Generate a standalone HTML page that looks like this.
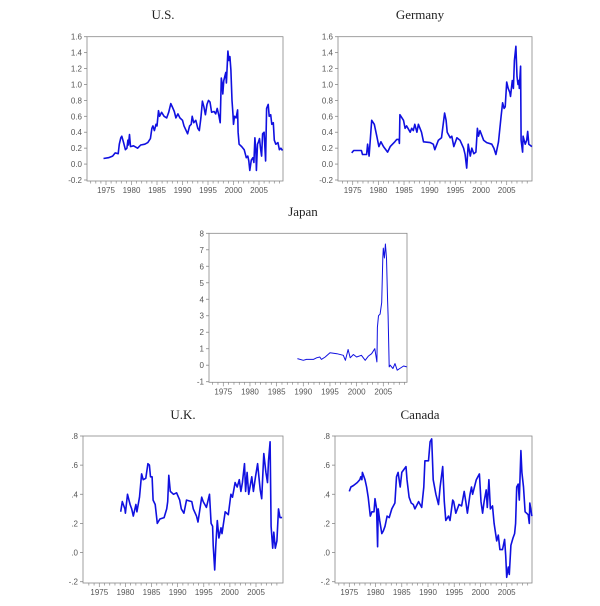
<!DOCTYPE html>
<html><head><meta charset="utf-8">
<style>
html,body{margin:0;padding:0;background:#fff;}
svg{display:block;}
.tl{font-family:"Liberation Sans",sans-serif;font-size:8px;fill:#555;}
.ttl{font-family:"Liberation Serif",serif;font-size:13px;fill:#222;}
</style></head>
<body>
<svg id="fig" width="600" height="606" viewBox="0 0 600 606" xmlns="http://www.w3.org/2000/svg"></svg>
<script>
const usYears=[1974.5,1975.5,1976.3,1976.8,1977.4,1977.6,1977.9,1978.1,1978.5,1978.8,1979.1,1979.3,1979.4,1979.6,1979.8,1980.4,1981.2,1981.8,1982.6,1983.2,1983.7,1984.0,1984.2,1984.5,1984.8,1985.0,1985.3,1985.5,1985.9,1986.4,1986.9,1987.3,1987.7,1988.0,1988.4,1988.7,1989.1,1989.5,1990.0,1990.3,1991.0,1991.4,1991.7,1991.9,1992.2,1992.6,1993.0,1993.3,1993.6,1993.9,1994.2,1994.5,1994.8,1995.1,1995.4,1995.7,1996.2,1996.5,1996.8,1997.1,1997.4,1997.6,1997.8,1997.9,1998.1,1998.3,1998.5,1998.6,1998.9,1999.1,1999.3,1999.5,1999.7,1999.9,2000.0,2000.2,2000.5,2000.8,2000.9,2001.1,2001.6,2002.1,2002.5,2002.8,2003.0,2003.2,2003.5,2003.8,2004.0,2004.2,2004.4,2004.5,2004.7,2004.9,2005.1,2005.3,2005.5,2005.7,2006.0,2006.3,2006.5,2006.8,2007.0,2007.3,2007.5,2007.8,2008.0,2008.3,2008.7,2009.0,2009.3,2009.6];
const usValues=[.07,.08,.10,.14,.13,.25,.33,.35,.26,.18,.20,.30,.24,.37,.22,.23,.20,.24,.25,.27,.32,.45,.48,.42,.50,.48,.67,.60,.65,.60,.58,.65,.76,.72,.66,.58,.63,.58,.55,.48,.38,.48,.50,.60,.52,.55,.45,.42,.58,.79,.72,.62,.75,.80,.78,.65,.66,.63,.70,.62,.52,1.08,1.00,.88,1.05,1.10,1.15,1.02,1.42,1.30,1.35,1.18,.80,.62,.50,.60,.58,.68,.40,.25,.22,.18,.08,.10,.04,-.08,.05,.08,.02,.33,.15,-.08,.25,.28,.32,.20,.10,.38,.40,.04,.70,.75,.60,.62,.50,.52,.30,.25,.27,.18,.20,.17];

const deYears=[1974.8,1975.2,1976.0,1976.7,1976.9,1977.7,1977.9,1978.2,1978.7,1979.2,1979.7,1980.1,1980.5,1981.0,1981.8,1982.3,1983.2,1983.6,1984.0,1984.1,1984.2,1984.9,1985.2,1985.5,1986.2,1986.5,1986.8,1987.1,1987.5,1987.8,1988.4,1988.8,1990.1,1990.7,1991.0,1991.7,1992.3,1992.9,1993.2,1993.4,1994.0,1994.3,1994.7,1995.3,1995.9,1996.6,1996.9,1997.2,1997.5,1997.9,1998.2,1998.6,1999.0,1999.3,1999.5,1999.8,2000.5,2001.1,2002.1,2002.5,2002.9,2003.4,2003.9,2004.2,2004.5,2004.7,2005.0,2005.3,2005.6,2005.75,2006.1,2006.3,2006.5,2006.8,2007.0,2007.2,2007.4,2007.45,2007.7,2007.8,2008.1,2008.2,2008.6,2008.9,2009.1,2009.3,2009.9];
const deValues=[.14,.17,.17,.17,.12,.12,.25,.10,.55,.50,.35,.22,.28,.22,.15,.22,.28,.31,.31,.26,.62,.55,.45,.48,.40,.45,.42,.50,.40,.50,.40,.28,.27,.25,.18,.30,.33,.64,.55,.40,.33,.35,.22,.33,.30,.20,.12,-.05,.25,.10,.20,.13,.15,.45,.35,.42,.30,.27,.25,.20,.12,.28,.60,.77,.70,.72,1.03,.95,.90,.85,1.05,.95,1.30,1.48,1.10,1.00,1.05,.95,1.23,.30,.15,.35,.25,.30,.41,.25,.22];

const jpYears=[1988.9,1990.0,1990.6,1991.9,1992.5,1993.1,1993.4,1994.1,1995.0,1996.3,1997.5,1997.9,1998.4,1998.8,1999.4,2000.0,2000.9,2001.6,2002.2,2002.8,2003.4,2003.8,2003.9,2004.1,2004.4,2004.7,2004.9,2005.0,2005.2,2005.4,2005.6,2005.8,2005.9,2006.1,2006.3,2006.8,2007.2,2007.6,2008.1,2008.8,2009.4];
const jpValues=[.4,.3,.35,.35,.45,.5,.35,.5,.75,.7,.6,.3,.95,.45,.65,.5,.6,.3,.55,.7,1.0,.2,2.3,3.0,3.1,3.8,6.5,7.1,6.5,7.35,6.5,3.9,3.0,-.1,0.0,-.2,.1,-.3,-.2,-.05,-.1];

const ukYears=[1979.1,1979.4,1979.7,1979.9,1980.0,1980.4,1980.9,1981.2,1981.5,1982.0,1982.2,1982.7,1983.1,1983.4,1983.9,1984.3,1984.6,1984.8,1985.1,1985.3,1985.7,1986.1,1986.6,1987.4,1987.9,1988.1,1988.3,1988.6,1989.2,1989.8,1990.4,1990.7,1991.2,1991.7,1992.7,1993.0,1993.6,1993.9,1994.6,1994.9,1995.5,1996.1,1996.4,1996.7,1996.8,1997.1,1997.3,1997.6,1997.9,1998.3,1998.5,1999.1,1999.7,2000.2,2000.5,2001.0,2001.4,2001.8,2002.1,2002.4,2002.8,2003.0,2003.3,2003.6,2004.2,2004.5,2004.9,2005.3,2005.8,2006.1,2006.5,2006.9,2007.2,2007.4,2007.7,2007.9,2008.2,2008.4,2008.7,2009.0,2009.3,2009.6,2010.0];
const ukValues=[.28,.35,.32,.30,.27,.40,.33,.30,.25,.33,.28,.38,.54,.50,.51,.61,.60,.52,.52,.36,.33,.20,.23,.24,.30,.35,.53,.42,.40,.41,.36,.30,.27,.36,.35,.30,.25,.21,.38,.35,.31,.40,.20,.18,.05,-.12,.05,.22,.10,.17,.13,.28,.26,.40,.38,.48,.45,.50,.42,.48,.61,.42,.55,.40,.52,.42,.52,.61,.43,.37,.68,.55,.48,.63,.76,.18,.03,.14,.03,.08,.30,.24,.24];

const caYears=[1975.0,1975.3,1975.8,1976.5,1977.0,1977.2,1977.4,1977.5,1978.0,1978.3,1978.6,1979.0,1979.3,1979.7,1979.9,1980.2,1980.4,1980.5,1980.8,1981.2,1981.5,1981.8,1982.2,1982.6,1983.1,1983.7,1984.0,1984.3,1984.7,1985.0,1985.4,1985.8,1986.0,1986.4,1986.8,1987.2,1987.5,1988.2,1988.8,1989.2,1989.4,1990.1,1990.4,1990.7,1991.0,1991.5,1992.0,1992.3,1992.8,1993.1,1993.4,1993.9,1994.2,1994.7,1994.9,1995.3,1995.9,1996.4,1996.9,1997.2,1997.5,1998.0,1998.3,1998.5,1999.2,1999.8,2000.1,2000.4,2000.7,2001.1,2001.3,2001.6,2001.9,2002.3,2002.6,2003.1,2003.4,2003.7,2004.2,2004.6,2004.8,2005.0,2005.3,2005.5,2005.8,2006.2,2006.5,2006.7,2006.9,2007.2,2007.4,2007.7,2007.9,2008.2,2008.5,2008.8,2009.1,2009.3,2009.4,2009.8];
const caValues=[.42,.45,.46,.48,.50,.52,.50,.55,.50,.45,.38,.25,.28,.28,.37,.30,.04,.30,.22,.13,.15,.18,.25,.24,.30,.34,.52,.55,.45,.55,.57,.59,.50,.38,.34,.33,.30,.35,.31,.45,.63,.63,.76,.78,.50,.40,.33,.45,.59,.35,.22,.25,.22,.36,.35,.27,.33,.32,.42,.35,.27,.40,.45,.40,.50,.54,.35,.27,.35,.43,.31,.50,.30,.32,.20,.08,.12,.02,.02,.09,-.02,-.17,-.10,-.15,.05,.10,.13,.20,.45,.47,.36,.70,.55,.45,.28,.27,.26,.20,.34,.25];

const usTicks=["1.6","1.4","1.2","1.0","0.8","0.6","0.4","0.2","0.0","-0.2"];
const usTickVals=[1.6,1.4,1.2,1.0,0.8,0.6,0.4,0.2,0.0,-0.2];
const jpTicks=["8","7","6","5","4","3","2","1","0","-1"];
const jpTickVals=[8,7,6,5,4,3,2,1,0,-1];
const ukTicks=[".8",".6",".4",".2",".0","-.2"];
const ukTickVals=[.8,.6,.4,.2,0,-.2];
const yearLabels=["1975","1980","1985","1990","1995","2000","2005"];
const yearVals=[1975,1980,1985,1990,1995,2000,2005];

const NS="http://www.w3.org/2000/svg";
const svg=document.getElementById('fig');
function el(tag,attrs,parent){const e=document.createElementNS(NS,tag);for(const k in attrs)e.setAttribute(k,attrs[k]);(parent||svg).appendChild(e);return e;}

function panel(p){
  const g=el('g',{});
  
  
  const sx=y=>p.x1975+(y-1975)*(p.x2005-p.x1975)/30;
  const sy=v=>p.yTop+(p.vTop-v)*(p.yBot-p.yTop)/(p.vTop-p.vBot);
  const t=el('text',{x:p.tx,y:p.ty,'text-anchor':'middle',class:'ttl'},g);
  t.textContent=p.title;
  
  
  const box=el('rect',{x:p.bx0,y:p.by0,width:p.bx1-p.bx0,height:p.by1-p.by0,fill:'none',stroke:'#888','stroke-width':0.8},g);
  
  
  // y ticks
  p.tickVals.forEach((v,i)=>{
    const yy=sy(v);
    el('line',{x1:p.bx0-3,x2:p.bx0,y1:yy,y2:yy,stroke:'#888','stroke-width':0.8},g);
    const tl=el('text',{x:p.bx0-5,y:yy+3,'text-anchor':'end',class:'tl'},g);
    tl.textContent=p.ticks[i];
    
    
  });
  // x ticks
  for(let yr=1972;yr<=2010;yr++){
    const xx=sx(yr);
    if(xx<p.bx0+1||xx>p.bx1-1)continue;
    const big=yr%5===0;
    el('line',{x1:xx,x2:xx,y1:p.by1,y2:p.by1+(big?4:2.5),stroke:'#888','stroke-width':0.7},g);
  }
  yearVals.forEach((yr,i)=>{
    const tl=el('text',{x:sx(yr),y:p.by1+12,'text-anchor':'middle',class:'tl'},g);
    tl.textContent=yearLabels[i];
    
    
  });
  const pts=p.years.map((y,i)=>sx(y).toFixed(1)+','+sy(p.values[i]).toFixed(1)).join(' ');
  const line=el('polyline',{points:pts,fill:'none',stroke:'#1010e0','stroke-width':p.sw,'stroke-linejoin':'round'},g);
  
  
}

panel({name:'us',title:'U.S.',tx:163,ty:19,x1975:106,x2005:259,yTop:36.7,yBot:180,vTop:1.6,vBot:-0.2,bx0:87,bx1:283,by0:36.7,by1:181,ticks:usTicks,tickVals:usTickVals,years:usYears,values:usValues,sw:1.6});
panel({name:'germany',title:'Germany',tx:420,ty:19,x1975:352.7,x2005:506.7,yTop:36.7,yBot:180,vTop:1.6,vBot:-0.2,bx0:338,bx1:532,by0:36.7,by1:181,ticks:usTicks,tickVals:usTickVals,years:deYears,values:deValues,sw:1.6});
panel({name:'japan',title:'Japan',tx:303,ty:216,x1975:223.3,x2005:383.3,yTop:233.3,yBot:381.7,vTop:8,vBot:-1,bx0:209,bx1:407,by0:233.3,by1:382.3,ticks:jpTicks,tickVals:jpTickVals,years:jpYears,values:jpValues,sw:1});
panel({name:'uk',title:'U.K.',tx:183,ty:419,x1975:99.3,x2005:256,yTop:436,yBot:581.7,vTop:.8,vBot:-.2,bx0:83,bx1:283,by0:436,by1:583,ticks:ukTicks,tickVals:ukTickVals,years:ukYears,values:ukValues,sw:1.6});
panel({name:'canada',title:'Canada',tx:420,ty:419,x1975:349.3,x2005:506.7,yTop:436,yBot:581.7,vTop:.8,vBot:-.2,bx0:335,bx1:532,by0:436,by1:583,ticks:ukTicks,tickVals:ukTickVals,years:caYears,values:caValues,sw:1.6});
</script>
</body></html>
